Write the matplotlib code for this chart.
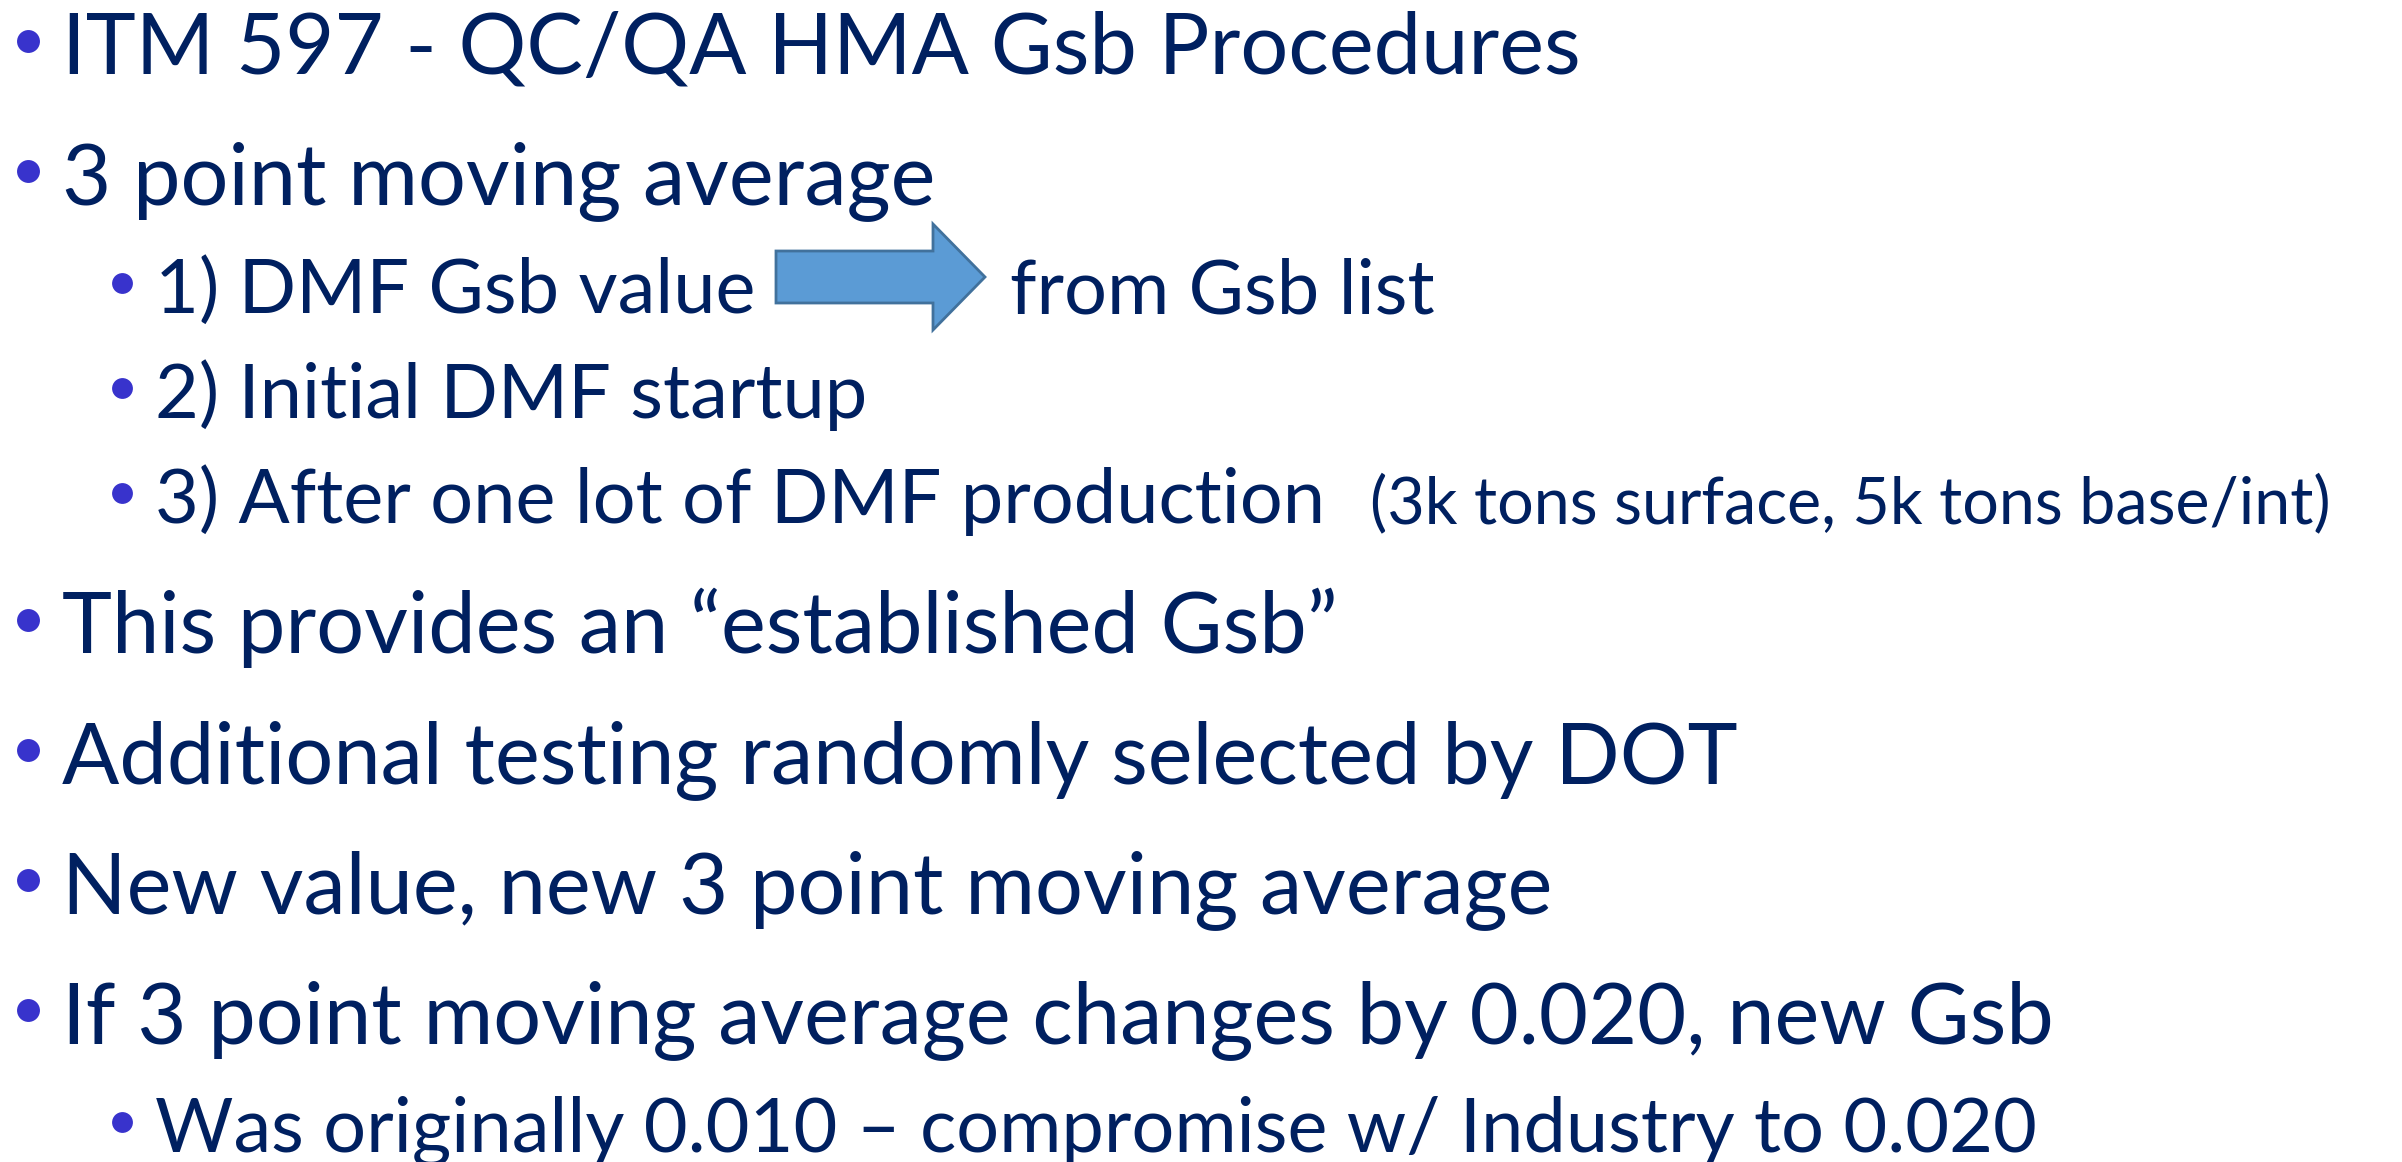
import numpy as np
import matplotlib.pyplot as plt
from matplotlib.patches import Polygon

# slide content
lines = [
    "ITM 597 - QC/QA HMA Gsb Procedures",
    "3 point moving average",
    "1) DMF Gsb value",
    "2) Initial DMF startup",
    "3) After one lot of DMF production",
    "This provides an \u201cestablished Gsb\u201d",
    "Additional testing randomly selected by DOT",
    "New value, new 3 point moving average",
    "If 3 point moving average changes by 0.020, new Gsb",
    "Was originally 0.010 \u2013 compromise w/ Industry to 0.020",
]
levels = [0, 0, 1, 1, 1, 0, 0, 0, 0, 1]
arrow_tail = "from Gsb list"
small_note = "(3k tons surface, 5k tons base/int)"

txt_col = "#002060"
bul_col = "#3833CC"
fnt = "Lato"

W, H = 2402, 1162
fig = plt.figure(figsize=(W / 100, H / 100), dpi=100)
ax = fig.add_axes([0, 0, 1, 1])
ax.set_xlim(0, W)
ax.set_ylim(H, 0)
ax.axis("off")

# baselines
base = []
y = 74
for i, lv in enumerate(levels):
    if i > 0:
        if lv == 0:
            y += 130
        elif levels[i - 1] == 0:
            y += 109
        else:
            y += 105
    base.append(y)

for i, (s, lv) in enumerate(zip(lines, levels)):
    if lv == 0:
        ax.text(62, base[i], s, fontsize=61, family=fnt, color=txt_col, va="baseline")
        ax.plot(28, base[i] - 33, "o", ms=16.5, color=bul_col, mec="none")
    else:
        ax.text(155, base[i], s, fontsize=54.5, family=fnt, color=txt_col, va="baseline")
        ax.plot(122, base[i] - 30, "o", ms=15, color=bul_col, mec="none")

# arrow after "DMF Gsb value"
yb = base[2]
arr = Polygon([[776, yb - 62], [933, yb - 62], [933, yb - 89], [985, yb - 36],
               [933, yb + 17], [933, yb - 10], [776, yb - 10]],
              closed=True, fc="#5B9BD5", ec="#41719C", lw=2)
ax.add_patch(arr)
ax.text(1010, yb, arrow_tail, fontsize=54.5, family=fnt, color=txt_col, va="baseline")

ax.text(1370, base[4], small_note, fontsize=46.5, family=fnt, color=txt_col, va="baseline")

fig.savefig("out.png", dpi=100, facecolor="white")
